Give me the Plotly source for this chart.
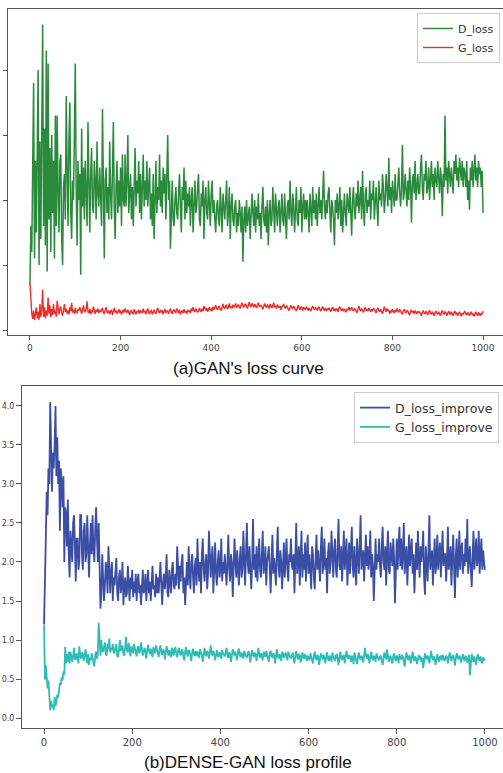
import plotly.graph_objects as go

# ---------------- data ----------------
iters_early = list(range(0, 60, 2))
iters_late = list(range(60, 1001, 2))
iters = iters_early + iters_late

# (a) GAN loss curve
d_loss_early = [0.7, 1.6, 1.2, 3.0, 3.8, 1.1, 2.6, 1.5, 3.5, 4.0,
                1.0, 2.9, 1.4, 3.4, 4.7, 1.6, 3.1, 1.3, 4.3, 0.9,
                4.1, 1.7, 2.8, 1.2, 3.0, 1.8, 2.6, 1.1, 3.3, 1.6]
d_loss_late = [
    3.3, 2.1, 1.5, 2.6, 2.7, 1.4, 1.0, 2.2, 2.4, 1.7, 3.6, 2.5, 1.6, 2.9, 3.5, 1.8, 1.4, 2.3, 2.0, 3.0, 4.1, 2.2, 1.3, 2.6, 2.0,
    2.4, 0.85, 3.1, 1.9, 2.5, 1.7, 2.6, 2.2, 1.6, 3.2, 2.0, 1.5, 2.4, 2.8, 1.9, 1.8, 2.6, 2.3, 1.7, 2.9, 2.1, 1.9, 2.5, 2.0, 1.6,
    3.4, 2.0, 1.1, 2.3, 2.5, 1.8, 2.2, 1.7, 2.9, 2.1, 1.7, 2.4, 3.2, 1.9, 1.4, 2.2, 2.6, 1.8, 2.3, 1.9, 2.5, 1.6, 2.7, 2.0, 1.9,
    2.7, 1.9, 2.3, 3.0, 1.8, 2.1, 2.4, 1.7, 2.2, 1.6, 2.5, 2.8, 1.9, 2.3, 2.1, 2.6, 1.8, 2.4, 1.7, 2.2, 2.7, 1.9, 2.3, 2.0, 2.6,
    1.9, 2.3, 2.5, 1.7, 2.1, 1.6, 2.4, 1.4, 2.0, 2.6, 1.8, 2.2, 2.0, 2.7, 1.9, 2.3, 1.8, 2.5, 2.1, 2.4, 1.7, 2.2, 3.0, 2.0, 2.3,
    1.25, 2.1, 2.3, 1.7, 1.6, 2.0, 2.2, 1.8, 1.7, 2.1, 2.4, 1.9, 1.5, 2.2, 2.0, 2.5, 1.7, 2.3, 1.8, 2.1, 1.9, 2.2, 1.6, 2.0, 2.2,
    1.5, 2.0, 2.3, 1.8, 1.9, 2.2, 2.4, 1.7, 1.6, 2.1, 1.9, 2.3, 1.4, 2.0, 2.2, 1.8, 1.7, 2.3, 2.0, 1.6, 2.1, 2.3, 1.8, 2.0, 1.7,
    1.5, 1.9, 2.0, 1.7, 1.6, 2.2, 1.9, 1.5, 2.1, 1.8, 1.7, 2.0, 2.3, 1.6, 1.8, 2.2, 1.4, 1.9, 2.1, 1.7, 1.6, 1.9, 2.0, 1.5, 1.8,
    1.6, 2.0, 1.8, 1.5, 1.9, 1.05, 1.7, 1.9, 1.5, 2.0, 1.6, 1.8, 1.9, 1.4, 1.7, 2.1, 1.8, 1.6, 2.0, 1.5, 1.9, 1.7, 2.1, 1.6, 1.8,
    1.4, 1.9, 2.2, 1.7, 1.6, 1.9, 1.5, 2.0, 1.3, 1.8, 2.0, 1.6, 1.7, 2.2, 1.9, 1.5, 2.1, 1.7, 1.6, 1.9, 2.0, 1.5, 1.8, 2.1, 1.7,
    1.6, 2.1, 1.8, 1.4, 1.9, 2.0, 1.7, 2.3, 1.8, 1.6, 2.1, 1.9, 1.5, 2.0, 2.2, 1.7, 1.6, 2.0, 1.8, 2.2, 1.5, 1.9, 2.1, 1.7, 2.0,
    1.7, 2.0, 1.8, 1.5, 2.1, 1.9, 1.6, 2.2, 1.8, 2.0, 1.7, 2.1, 1.6, 1.9, 2.2, 1.8, 2.0, 1.7, 2.1, 2.45, 1.9, 1.7, 2.0, 1.8, 2.1,
    2.2, 1.8, 1.5, 2.0, 1.9, 1.7, 1.3, 2.0, 1.8, 2.1, 1.7, 1.9, 2.2, 1.6, 2.0, 1.5, 1.9, 2.1, 1.8, 1.6, 2.1, 1.9, 1.8, 2.2, 1.7,
    1.45, 2.0, 2.2, 1.8, 1.7, 2.1, 1.9, 2.3, 1.8, 2.0, 2.2, 1.7, 2.45, 1.9, 1.6, 2.1, 2.2, 1.8, 2.0, 1.9, 2.3, 1.7, 2.1, 2.0, 2.3,
    1.7, 2.1, 2.2, 1.9, 1.6, 2.3, 2.0, 2.1, 1.9, 2.4, 2.2, 1.8, 2.0, 2.4, 2.1, 1.9, 2.65, 2.0, 2.2, 1.8, 2.3, 2.1, 1.9, 2.4, 2.0,
    2.0, 2.3, 2.5, 2.1, 1.9, 2.2, 2.85, 2.0, 2.1, 2.4, 2.2, 1.9, 2.3, 2.0, 2.5, 2.2, 1.65, 2.3, 2.4, 2.1, 2.6, 2.0, 2.2, 2.4, 2.1,
    2.1, 2.5, 2.7, 2.2, 2.0, 2.4, 2.3, 2.6, 2.1, 2.2, 2.5, 2.0, 2.3, 2.6, 2.2, 2.4, 2.0, 2.5, 2.3, 2.2, 2.6, 2.4, 2.1, 2.5, 2.3,
    1.75, 2.4, 2.2, 3.3, 2.3, 2.5, 2.1, 2.6, 2.4, 2.2, 2.5, 2.3, 2.1, 2.6, 2.4, 2.7, 2.3, 2.5, 2.2, 2.65, 2.4, 2.3, 2.6, 2.2, 2.5,
    2.4, 2.2, 2.6, 2.0, 2.3, 1.85, 2.5, 2.3, 2.6, 2.2, 2.4, 2.7, 2.3, 2.5, 2.2, 2.6, 2.4, 2.5, 2.2, 2.45, 1.8]

g_loss_early = [0.72, 0.45, 0.25, 0.17, 0.3, 0.15, 0.22, 0.35, 0.18, 0.28,
                0.16, 0.4, 0.2, 0.3, 0.62, 0.2, 0.35, 0.18, 0.3, 0.22,
                0.5, 0.25, 0.38, 0.2, 0.32, 0.23, 0.4, 0.25, 0.3, 0.2]
g_loss_late = [
    .45, .30, .24, .33, .36, .26, .22, .31, .40, .28, .33, .25, .30, .24, .35, .29, .42, .27, .31, .25, .34, .28, .26, .32, .30,
    .35, .27, .25, .31, .38, .29, .27, .33, .44, .28, .26, .32, .24, .30, .27, .36, .29, .25, .31, .28, .33, .26, .30, .28, .32,
    .33, .27, .25, .31, .35, .28, .26, .30, .24, .29, .31, .23, .28, .34, .27, .30, .25, .29, .32, .26, .30, .24, .28, .31, .27,
    .33, .28, .27, .31, .25, .23, .29, .30, .26, .25, .32, .28, .24, .29, .27, .31, .25, .30, .28, .26, .33, .27, .29, .24, .30,
    .33, .27, .25, .29, .30, .24, .28, .31, .27, .25, .30, .34, .28, .26, .31, .27, .30, .24, .29, .32, .26, .30, .28, .25, .31,
    .32, .27, .25, .30, .31, .28, .27, .33, .29, .26, .31, .24, .28, .30, .26, .32, .27, .29, .25, .31, .28, .30, .26, .33, .29,
    .35, .30, .28, .33, .31, .27, .29, .34, .30, .28, .33, .29, .37, .31, .30, .34, .28, .32, .35, .30, .33, .29, .36, .31, .34,
    .38, .33, .31, .35, .36, .32, .30, .35, .40, .34, .33, .37, .38, .32, .35, .41, .34, .36, .33, .39, .35, .37, .41, .34, .38,
    .39, .36, .33, .38, .42, .37, .35, .39, .40, .36, .33, .38, .43, .37, .36, .41, .39, .35, .40, .37, .34, .39, .42, .36, .38,
    .38, .35, .32, .37, .41, .36, .35, .39, .37, .33, .40, .36, .34, .38, .42, .35, .37, .33, .39, .36, .34, .37, .31, .36, .38,
    .39, .35, .33, .37, .36, .32, .30, .35, .38, .34, .32, .36, .35, .31, .30, .34, .38, .33, .31, .36, .34, .30, .35, .33, .31,
    .36, .33, .30, .34, .32, .29, .34, .37, .33, .31, .35, .32, .30, .34, .36, .31, .29, .33, .36, .32, .30, .34, .29, .33, .31,
    .34, .31, .28, .33, .35, .30, .32, .29, .33, .31, .28, .34, .36, .31, .30, .33, .29, .32, .30, .27, .33, .31, .35, .30, .32,
    .35, .31, .29, .33, .32, .28, .27, .31, .37, .32, .30, .33, .29, .27, .32, .35, .30, .31, .29, .34, .31, .28, .32, .30, .33,
    .32, .29, .26, .31, .34, .30, .28, .32, .29, .25, .30, .36, .31, .28, .33, .29, .31, .25, .30, .27, .32, .29, .26, .31, .28,
    .33, .29, .27, .31, .30, .26, .24, .29, .32, .28, .26, .30, .29, .25, .23, .28, .31, .27, .29, .25, .30, .27, .25, .29, .27,
    .28, .25, .22, .27, .30, .26, .25, .29, .27, .23, .28, .30, .26, .24, .28, .25, .22, .27, .29, .26, .24, .28, .25, .22, .27,
    .30, .26, .24, .28, .27, .22, .25, .29, .26, .23, .28, .25, .22, .27, .29, .24, .27, .22, .26, .28, .25, .21, .26, .24, .27,
    .29, .25, .23, .27, .24, .22, .26, .28, .23, .25, .21, .26, .28, .24, .22, .27, .25, .22, .26, .24, .29]

# (b) DENSE-GAN loss profile
d_imp_early = [1.2, 1.6, 2.3, 2.9, 2.6, 3.2, 3.0, 4.05, 3.3, 2.9,
               3.4, 3.2, 3.5, 4.0, 3.1, 3.6, 3.0, 3.3, 2.4, 3.2,
               3.0, 2.7, 3.1, 2.0, 2.7, 2.6, 2.2, 2.8, 2.1, 1.8]
d_imp_late = [
    2.4, 2.1, 2.0, 2.5, 2.6, 2.2, 1.75, 2.3, 2.3, 1.9, 2.0, 2.6, 2.6, 2.1, 1.9, 2.4, 2.5, 2.0, 2.1, 2.6, 2.3, 1.8, 2.2, 2.5, 2.1,
    2.6, 2.2, 2.0, 2.4, 2.7, 2.3, 2.0, 2.5, 2.1, 1.4, 1.6, 2.1, 1.8, 1.5, 1.7, 2.0, 1.9, 1.6, 2.2, 1.7, 1.6, 1.9, 2.0, 1.5, 1.8,
    1.7, 1.9, 2.05, 1.6, 1.5, 1.8, 1.9, 1.6, 1.7, 2.0, 1.45, 1.7, 1.8, 1.55, 1.6, 1.95, 1.7, 1.5, 1.8, 1.65, 1.9, 1.55, 1.75, 1.6, 1.85,
    1.5, 1.75, 1.85, 1.6, 1.7, 1.45, 1.8, 1.9, 1.6, 1.65, 1.85, 1.5, 1.7, 1.9, 1.6, 1.75, 1.5, 1.8, 1.95, 1.65, 1.7, 1.55, 1.85, 1.6, 1.8,
    1.6, 1.85, 2.0, 1.7, 1.45, 1.75, 1.85, 1.65, 1.8, 2.1, 1.6, 1.55, 1.9, 1.75, 1.6, 1.9, 2.0, 1.7, 1.65, 1.85, 1.7, 2.2, 1.8, 1.65, 1.95,
    1.75, 2.0, 2.1, 1.6, 1.8, 1.45, 1.9, 2.0, 1.7, 2.2, 1.85, 1.65, 2.0, 2.1, 1.8, 1.6, 1.95, 2.05, 1.7, 2.3, 1.9, 1.75, 2.0, 1.6, 2.1,
    2.3, 1.9, 1.75, 2.0, 2.1, 1.65, 1.85, 2.4, 1.9, 1.8, 2.05, 2.2, 1.6, 1.95, 2.25, 1.85, 1.7, 2.0, 2.15, 1.8, 1.9, 2.3, 1.75, 2.0, 1.85,
    2.1, 1.8, 1.7, 2.0, 2.35, 1.9, 1.75, 2.1, 2.0, 1.55, 1.9, 2.3, 2.0, 1.8, 2.15, 1.95, 1.7, 2.05, 2.2, 1.8, 1.9, 2.4, 1.85, 1.7, 2.1,
    2.5, 2.0, 1.85, 2.2, 1.95, 1.65, 2.0, 2.55, 1.9, 2.1, 1.8, 2.2, 1.75, 2.0, 2.3, 1.9, 1.8, 2.1, 2.4, 1.85, 1.95, 2.2, 1.7, 2.0, 2.15,
    2.2, 1.9, 1.6, 2.0, 2.35, 1.85, 2.05, 1.9, 1.7, 2.1, 2.45, 1.95, 1.8, 2.15, 2.0, 1.65, 1.9, 2.25, 1.8, 2.05, 2.3, 1.9, 1.75, 2.1, 2.0,
    2.3, 1.95, 1.9, 2.1, 1.6, 2.0, 2.5, 1.85, 2.05, 2.2, 1.7, 1.95, 2.4, 1.8, 2.1, 1.9, 2.25, 1.75, 2.0, 2.35, 1.85, 2.1, 1.9, 1.65, 2.2,
    2.1, 1.8, 1.65, 2.05, 2.35, 1.9, 2.15, 1.95, 1.75, 2.2, 2.45, 1.85, 2.0, 2.3, 1.9, 2.05, 1.6, 2.1, 2.25, 1.85, 2.0, 2.4, 1.9, 1.8, 2.15,
    2.3, 1.9, 1.8, 2.2, 2.55, 1.95, 1.9, 2.2, 1.75, 2.05, 2.4, 1.9, 2.1, 2.3, 1.7, 2.0, 2.25, 1.85, 2.1, 2.45, 1.95, 1.8, 2.2, 2.0, 1.7,
    2.3, 2.05, 1.85, 2.2, 2.6, 1.9, 2.0, 2.15, 1.75, 2.1, 2.35, 1.95, 2.2, 1.9, 2.05, 2.4, 1.8, 2.1, 1.95, 1.5, 2.15, 2.3, 1.9, 2.1, 2.0,
    2.3, 1.95, 1.8, 2.2, 2.45, 2.0, 1.9, 2.2, 1.7, 2.1, 2.4, 1.9, 1.85, 2.25, 2.1, 1.95, 2.3, 2.05, 1.47, 2.0, 2.3, 1.9, 2.15, 2.45, 1.95,
    2.3, 1.9, 2.1, 2.5, 1.85, 2.05, 2.2, 1.7, 2.0, 2.35, 1.95, 2.1, 2.3, 1.85, 2.1, 1.6, 2.0, 2.25, 1.9, 2.4, 2.05, 1.8, 2.2, 2.0, 2.15,
    2.4, 1.8, 1.58, 2.2, 2.0, 1.75, 2.15, 2.6, 1.9, 2.05, 2.15, 1.7, 2.2, 2.3, 1.85, 2.0, 2.35, 1.9, 2.1, 2.25, 1.8, 2.05, 2.4, 1.95, 2.1,
    2.1, 1.75, 2.0, 2.45, 1.9, 2.15, 2.2, 1.7, 2.05, 2.35, 1.95, 1.54, 2.1, 2.3, 1.8, 2.0, 2.4, 1.9, 2.15, 2.25, 1.85, 2.1, 1.95, 2.3, 2.0,
    2.55, 1.85, 2.1, 2.2, 1.9, 1.68, 2.05, 2.4, 1.9, 2.15, 2.3, 1.95, 2.05, 2.4, 1.85, 2.1, 2.3, 1.9, 2.15, 2.0, 1.9]

g_imp_early = [1.19, 0.49, 0.68, 0.55, 0.38, 0.48, 0.25, 0.1, 0.22, 0.14,
               0.17, 0.1, 0.27, 0.15, 0.2, 0.3, 0.26, 0.38, 0.45, 0.42,
               0.52, 0.48, 0.6, 0.55, 0.91, 0.7, 0.82, 0.72, 0.85, 0.7]
g_imp_late = [
    .85, .78, .72, .80, .90, .76, .75, .83, .79, .70, .92, .80, .76, .84, .82, .73, .79, .88, .78, .70, .82, .68, .77, .74, .83,
    .78, .72, .66, .80, .85, .76, .82, 1.22, .88, .80, 1.00, .86, .85, .92, .97, .82, .80, .95, .88, 1.02, .84, .90, .87, .95, .84,
    .84, .92, .95, .80, .78, .88, 1.00, .86, .90, .93, .82, .80, .91, 1.04, .87, .84, .96, .89, .79, .92, .86, .83, .95, .88, .85,
    .79, .90, .92, .83, .86, .97, .88, .80, .85, .90, .84, .76, .88, .94, .86, .82, .89, .85, .78, .91, .87, .83, .93, .86, .81,
    .78, .88, .93, .84, .81, .88, .86, .75, .84, .92, .87, .80, .87, .83, .78, .90, .85, .80, .88, .91, .82, .78, .86, .90, .83,
    .80, .86, .88, .79, .74, .85, .91, .83, .79, .87, .86, .80, .73, .84, .89, .82, .80, .86, .79, .85, .83, .77, .88, .84, .81,
    .72, .84, .90, .82, .79, .86, .84, .76, .85, .93, .83, .80, .86, .82, .74, .85, .87, .80, .78, .84, .82, .76, .87, .83, .80,
    .79, .85, .90, .81, .77, .84, .82, .72, .83, .88, .84, .80, .85, .79, .74, .86, .89, .81, .78, .84, .80, .76, .86, .82, .79,
    .78, .83, .86, .79, .71, .82, .87, .80, .79, .84, .81, .73, .84, .90, .82, .77, .83, .80, .74, .85, .82, .78, .86, .81, .77,
    .72, .83, .86, .79, .78, .83, .81, .70, .82, .88, .80, .76, .82, .79, .73, .85, .83, .77, .80, .84, .79, .74, .85, .81, .78,
    .77, .81, .84, .76, .70, .80, .86, .79, .75, .82, .80, .71, .81, .84, .78, .76, .82, .79, .73, .80, .77, .74, .83, .79, .75,
    .70, .79, .85, .77, .74, .81, .79, .68, .78, .83, .80, .75, .81, .78, .70, .79, .84, .77, .73, .80, .78, .72, .84, .79, .76,
    .73, .80, .82, .75, .68, .78, .85, .77, .74, .79, .81, .70, .78, .86, .79, .76, .81, .78, .72, .80, .77, .69, .84, .79, .75,
    .69, .78, .84, .77, .75, .80, .78, .71, .79, .90, .80, .76, .82, .79, .70, .78, .85, .77, .74, .80, .78, .72, .83, .79, .76,
    .74, .79, .80, .73, .68, .77, .84, .78, .75, .88, .81, .72, .77, .80, .74, .70, .79, .83, .76, .73, .80, .78, .70, .82, .77,
    .75, .80, .79, .72, .66, .77, .84, .78, .74, .80, .79, .70, .78, .85, .77, .73, .79, .76, .69, .78, .81, .75, .79, .72, .77,
    .64, .76, .83, .78, .75, .80, .77, .70, .79, .86, .78, .74, .79, .76, .68, .78, .82, .75, .72, .79, .80, .74, .81, .77, .73,
    .76, .80, .78, .70, .77, .84, .79, .73, .78, .81, .76, .67, .77, .83, .78, .75, .80, .77, .71, .79, .82, .76, .73, .80, .77,
    .71, .78, .81, .55, .74, .82, .77, .72, .79, .74, .68, .78, .82, .76, .73, .79, .75, .70, .78, .74, .76]

x_ticks = [0, 200, 400, 600, 800, 1000]
y_ticks_a = [0, 1, 2, 3, 4]
y_ticks_b = [0.0, 0.5, 1.0, 1.5, 2.0, 2.5, 3.0, 3.5, 4.0]
y_ticktext_b = ["0.0", "0.5", "1.0", "1.5", "2.0", "2.5", "3.0", "3.5", "4.0"]


def series(early, late):
    vals = early + late
    n = min(len(iters), len(vals))
    return iters[:n], vals[:n]


GREEN = "#2a8a3c"
RED = "#ec2d2a"
BLUE = "#3a4ea6"
TEAL = "#2fbcb5"
AX = "#555555"
TICKFONT = "DejaVu Sans"

fig = go.Figure()
for name, e, l, col, w, xa, ya, lg in [
    ("D_loss", d_loss_early, d_loss_late, GREEN, 1.5, "x", "y", "legend"),
    ("G_loss", g_loss_early, g_loss_late, RED, 1.4, "x", "y", "legend"),
    ("D_loss_improve", d_imp_early, d_imp_late, BLUE, 1.8, "x2", "y2", "legend2"),
    ("G_loss_improve", g_imp_early, g_imp_late, TEAL, 1.8, "x2", "y2", "legend2"),
]:
    xs, ys = series(e, l)
    fig.add_trace(go.Scatter(x=xs, y=ys, mode="lines", name=name,
                             line=dict(color=col, width=w),
                             xaxis=xa, yaxis=ya, legend=lg))

W, H = 503, 773

axis_common = dict(showgrid=False, zeroline=False, showline=True,
                   linecolor=AX, linewidth=1, ticks="outside",
                   tickcolor=AX, tickwidth=1, automargin=False)

fig.update_layout(
    width=W, height=H,
    margin=dict(l=0, r=0, t=0, b=0),
    paper_bgcolor="white", plot_bgcolor="white",
    showlegend=True,
    xaxis=dict(domain=[8 / W, 1], range=[-48.5, 1044], anchor="y",
               tickvals=x_ticks, ticklen=4, mirror=True,
               tickfont=dict(family=TICKFONT, size=9, color="#444444"),
               **axis_common),
    yaxis=dict(domain=[1 - 335 / H, 1 - 9 / H], range=[-0.077, 4.94],
               anchor="x", tickvals=y_ticks_a, ticklen=4,
               showticklabels=False, **axis_common),
    xaxis2=dict(domain=[22 / W, 1], range=[-50, 1041], anchor="y2",
                tickvals=x_ticks, ticklen=5, mirror=True,
                tickfont=dict(family=TICKFONT, size=10, color="#444444"),
                **axis_common),
    yaxis2=dict(domain=[1 - 728 / H, 1 - 386 / H], range=[-0.128, 4.256],
                anchor="x2", tickvals=y_ticks_b, ticktext=y_ticktext_b,
                ticklen=5,
                tickfont=dict(family=TICKFONT, size=8, color="#444444"),
                **axis_common),
    legend=dict(x=500 / W, xanchor="right", y=1 - 13 / H, yanchor="top",
                bgcolor="rgba(255,255,255,0.85)", bordercolor="#cccccc",
                borderwidth=1, itemwidth=30, tracegroupgap=0,
                font=dict(family=TICKFONT, size=11, color="#333333")),
    legend2=dict(x=499 / W, xanchor="right", y=1 - 392 / H, yanchor="top",
                 bgcolor="rgba(255,255,255,0.85)", bordercolor="#cccccc",
                 borderwidth=1, itemwidth=30, tracegroupgap=0,
                 font=dict(family=TICKFONT, size=12.5, color="#333333")),
    annotations=[
        dict(text="(a)GAN's loss curve", xref="paper", yref="paper",
             x=248 / W, y=1 - 368 / H, xanchor="center", yanchor="middle",
             showarrow=False,
             font=dict(family="Liberation Sans, Arial", size=17, color="#111111")),
        dict(text="(b)DENSE-GAN loss profile", xref="paper", yref="paper",
             x=248 / W, y=1 - 762 / H, xanchor="center", yanchor="middle",
             showarrow=False,
             font=dict(family="Liberation Sans, Arial", size=17, color="#111111")),
    ],
)

fig.write_html("out.html")
